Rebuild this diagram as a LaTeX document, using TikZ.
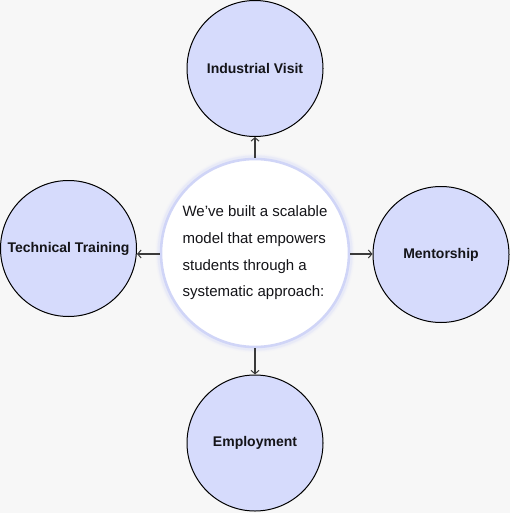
\documentclass[tikz,border=0pt]{standalone}
\usepackage{fontspec}
\setmainfont{Liberation Sans}
\usetikzlibrary{arrows.meta}
\definecolor{bg}{RGB}{247,247,247}
\definecolor{lav}{RGB}{214,219,252}
\definecolor{ring}{RGB}{208,213,247}
\definecolor{ink}{RGB}{20,20,24}
\definecolor{arrowc}{RGB}{58,58,58}
\begin{document}
\begin{tikzpicture}[x=1pt,y=-1pt,
  sat/.style={circle, draw=black, line width=1pt, fill=lav, minimum size=136pt, inner sep=0pt,
    font=\fontsize{14}{16}\selectfont\bfseries, text=ink},
  hub/.style={circle, draw=ring, line width=2.6pt, fill=white, minimum size=188pt, inner sep=0pt,
    font=\fontsize{15}{26.7}\selectfont, text=ink, align=left},
  arr/.style={draw=arrowc, line width=1.2pt, -{Straight Barb[length=3.5pt,width=8pt,line width=1pt]}}]
\fill[bg] (0,0) rectangle (510,513);
\useasboundingbox (0,0) rectangle (510,513);
% soft glow around the hub
\foreach \w/\o in {8/0.07,5.5/0.12,4/0.2}{
  \draw[ring, line width=\w pt, opacity=\o] (255,253) circle (95.5);
}
\node[hub] (c) at (255,253) {We’ve built a scalable\\model that empowers\\students through a\\systematic approach:};
\node[sat] (top) at (255,68.5) {Industrial Visit};
\node[sat] (left) at (68.5,248.5) {Technical Training};
\node[sat] (right) at (441,254.5) {Mentorship};
\node[sat] (bot) at (255,443) {Employment};
\draw[arr] (c.north) -- (top.south);
\draw[arr] (c.south) -- (bot.north);
\draw[arr] ([yshift=-1pt]c.west) -- ([yshift=-1pt]c.west -| left.east);
\draw[arr] ([yshift=-1pt]c.east) -- ([yshift=-1pt]c.east -| right.west);
\end{tikzpicture}
\end{document}
